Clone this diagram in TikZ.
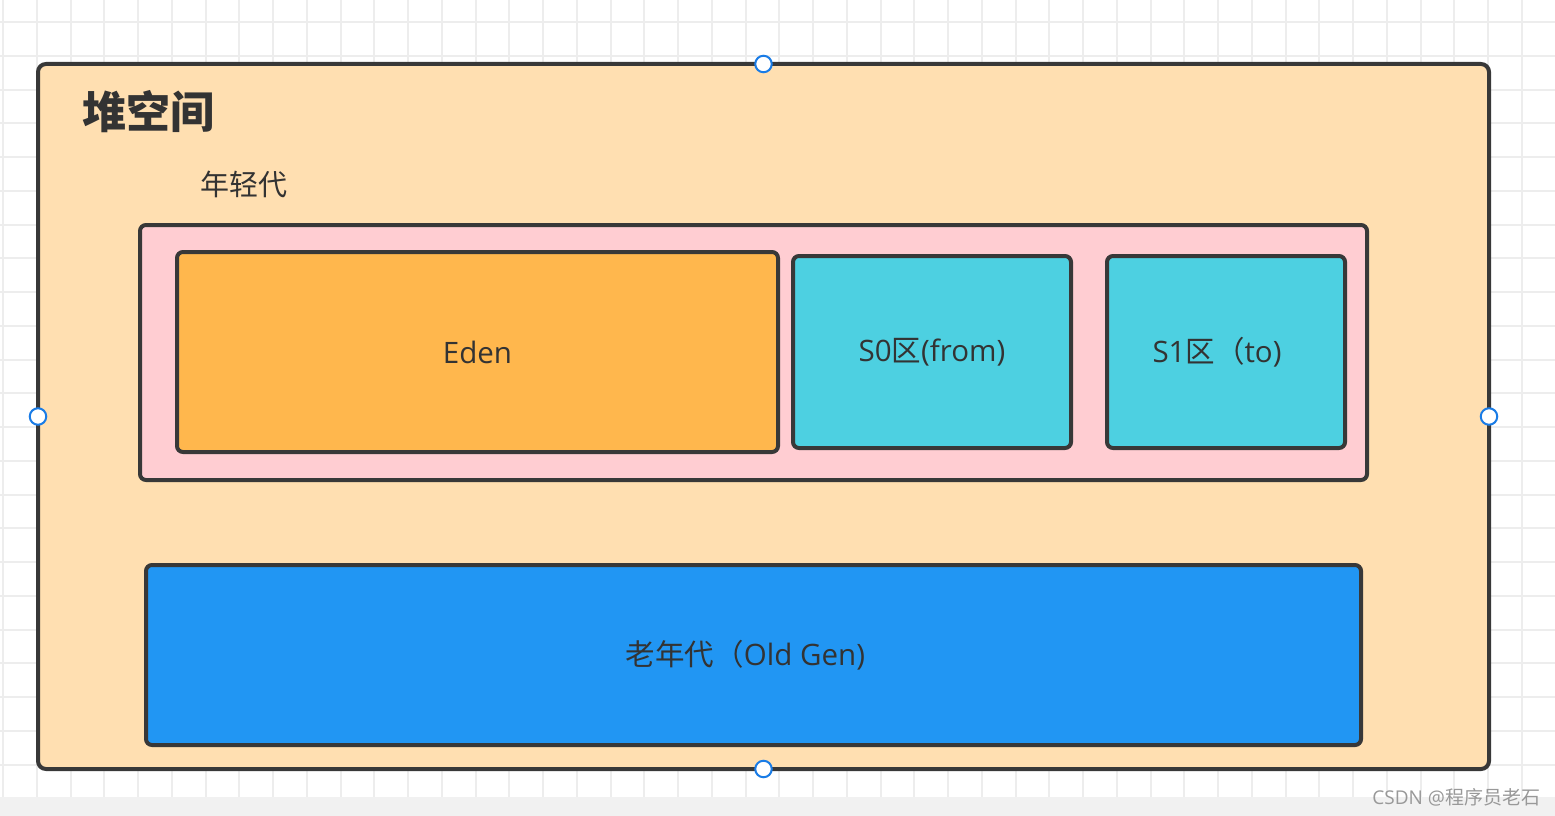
\documentclass[tikz,border=0pt]{standalone}
\usepackage{fontspec}
\setmainfont{Open Sans}
\newfontfamily\cjk{Noto Sans CJK SC}
\usetikzlibrary{positioning}
\definecolor{HeapFill}{HTML}{FFDFB1}
\definecolor{YoungFill}{HTML}{FFCDD2}
\definecolor{EdenFill}{HTML}{FFB74D}
\definecolor{SurvFill}{HTML}{4DD0E1}
\definecolor{OldFill}{HTML}{2196F3}
\definecolor{Edge}{HTML}{383838}
\definecolor{TextGray}{HTML}{333333}
\definecolor{Handle}{HTML}{1A7CE6}
\definecolor{GridLine}{HTML}{EDEDED}
\definecolor{BottomStrip}{HTML}{F1F1F1}

\begin{document}
\begin{tikzpicture}[x=1pt,y=-1pt,
		every node/.style={align=center,inner sep=0pt,outer sep=0pt,text=TextGray},
		area/.style={draw=Edge,line width=4pt,rounded corners=6pt,anchor=north west,font=\fontsize{29.5}{34}\selectfont},
		handle/.style={circle,draw=Handle,fill=white,line width=2pt,minimum size=16.5pt}
	]
	\useasboundingbox (0,0) rectangle (1555,816);
	% grid background
	\fill[white] (0,0) rectangle (1555,816);
	\foreach \i in {0,...,46}
		\draw[GridLine,line width=2pt] ({3+33.75*\i},0) -- ({3+33.75*\i},797);
	\foreach \j in {0,...,23}
		\draw[GridLine,line width=2pt] (0,{22+33.75*\j}) -- (1555,{22+33.75*\j});
	\fill[BottomStrip] (0,797) rectangle (1555,816);

	\node[area,fill=HeapFill,minimum width=1451pt,minimum height=705pt,rounded corners=8pt] (heap) at (38,64) {};
	\node[anchor=west,font=\cjk\bfseries\fontsize{44}{50}\selectfont] (title) at (82,112) {堆空间};
	\node[anchor=west,font=\cjk\fontsize{29}{34}\selectfont] (younglabel) at (200,184) {年轻代};

	\node[area,fill=YoungFill,minimum width=1227pt,minimum height=255pt] (young) at (140,225) {};
	\node[area,fill=EdenFill,minimum width=601pt,minimum height=200pt] (eden) at (177,252) {Eden};
	\node[area,fill=SurvFill,minimum width=278pt,minimum height=192pt] (s0) at (793,256) {S0{\cjk 区}(from)};
	\node[area,fill=SurvFill,minimum width=238pt,minimum height=192pt] (s1) at (1107,256) {S1{\cjk 区（}to)\hspace*{18pt}};

	\node[area,fill=OldFill,minimum width=1215pt,minimum height=180pt] (old) at (146,565) {{\cjk 老年代（}Old Gen)\hspace*{16pt}};

	\foreach \a in {north,south,west,east}
		\node[handle] (h-\a) at (heap.\a) {};

	\node[anchor=east,text=gray!80,font=\fontsize{19}{22}\selectfont] (mark) at (1540,797) {CSDN @{\cjk 程序员老石}};
\end{tikzpicture}
\end{document}
